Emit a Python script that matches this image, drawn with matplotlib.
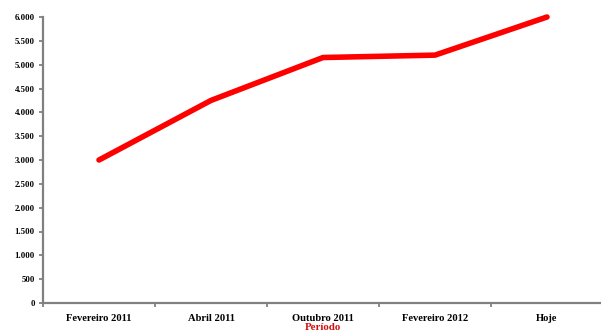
import matplotlib
matplotlib.use("Agg")
import matplotlib.pyplot as plt

categories = ["Fevereiro 2011", "Abril 2011", "Outubro 2011", "Fevereiro 2012", "Hoje"]
values = [3000, 4250, 5150, 5200, 6000]
yticks = [0, 500, 1000, 1500, 2000, 2500, 3000, 3500, 4000, 4500, 5000, 5500, 6000]
ytick_labels = ["0", "500", "1.000", "1.500", "2.000", "2.500", "3.000", "3.500",
                "4.000", "4.500", "5.000", "5.500", "6.000"]
xlabel = "Período"

fig = plt.figure(figsize=(6.01, 3.31), dpi=100)
ax = fig.add_axes([43/601, (331-303)/331, (603-43)/601, (303-17)/331])
x = list(range(len(categories)))
ax.plot(x, values, color="#ff0000", lw=4.0, solid_capstyle="round", clip_on=False)
ax.set_xlim(-0.5, len(categories) - 0.5)
ax.set_ylim(0, 6000)
ax.set_yticks(yticks)
ax.set_yticklabels(ytick_labels, fontfamily="Liberation Serif", fontweight="bold", fontsize=6.3)
ax.set_xticks(x)
ax.set_xticklabels(categories, fontfamily="Liberation Serif", fontweight="bold", fontsize=7.6)
ax.set_xticks([i - 0.5 for i in range(len(categories) + 1)], minor=True)
ax.tick_params(axis="x", which="major", length=0, pad=8)
ax.tick_params(axis="x", which="minor", length=3, width=1.3, color="#808080", direction="out")
ax.tick_params(axis="y", length=3, width=1.3, color="#808080", direction="out", pad=3)
for s in ["top", "right"]:
    ax.spines[s].set_visible(False)
for s in ["left", "bottom"]:
    ax.spines[s].set_color("#808080")
    ax.spines[s].set_linewidth(1.6)
ax.set_xlabel(xlabel, color="#d01010", fontfamily="Liberation Serif", fontweight="bold",
              fontsize=7.8, labelpad=0)
fig.savefig("out.png", dpi=100)
